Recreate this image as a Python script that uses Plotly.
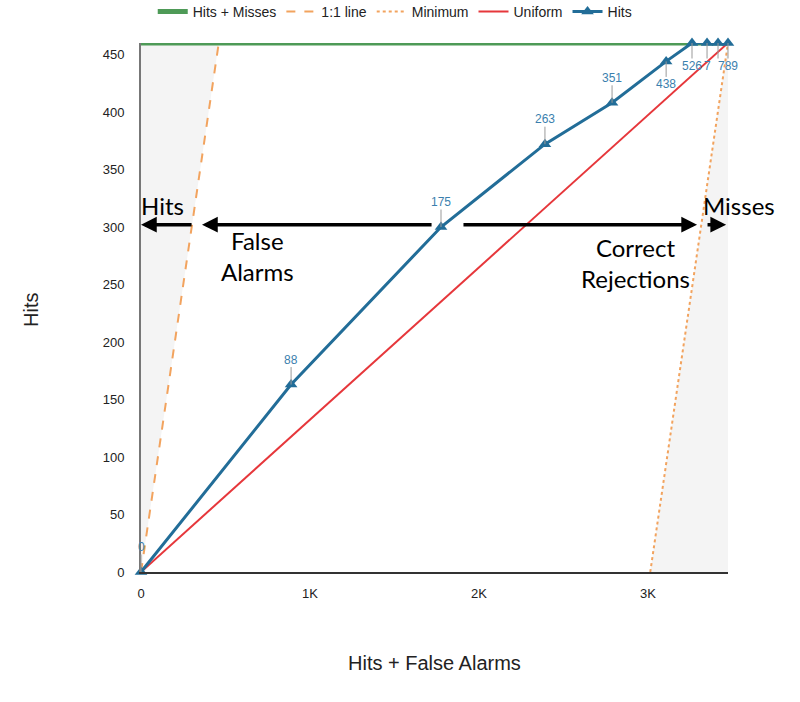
import plotly.graph_objects as go

# ---- data ----
total_hits = 460          # Hits + Misses
total_cases = 3473        # Hits + False Alarms at the end
hits_x = [0, 888, 1775, 2390, 2787, 3107, 3260, 3349, 3414, 3473]
hits_y = [0, 163, 300, 372, 408, 444, 460, 460, 460, 460]
point_labels = ["0", "88", "175", "263", "351", "438", "526", "614", "701", "789"]
# what is legible in the reference where the last labels collide
label_display = ["0", "88", "175", "263", "351", "438", "526", "7", " ", "789"]
label_below = [False, False, False, False, False, True, True, True, True, True]
y_ticks = [0, 50, 100, 150, 200, 250, 300, 350, 400, 450]
x_ticks = [0, 1000, 2000, 3000]
x_tick_text = ["0", "1K", "2K", "3K"]

BLUE = "#226d98"
RED = "#e6373b"
ORANGE = "#f2a35e"
GREEN = "#4e9a57"
SHADE = "#f4f4f4"

fig = go.Figure()

# shaded impossible regions
fig.add_trace(go.Scatter(x=[0, 0, total_hits, 0], y=[0, total_hits, total_hits, 0],
                         fill="toself", fillcolor=SHADE, line=dict(width=0),
                         mode="lines", showlegend=False, hoverinfo="skip"))
fig.add_trace(go.Scatter(x=[total_cases - total_hits, total_cases, total_cases, total_cases - total_hits],
                         y=[0, 0, total_hits, 0],
                         fill="toself", fillcolor=SHADE, line=dict(width=0),
                         mode="lines", showlegend=False, hoverinfo="skip"))

fig.add_trace(go.Scatter(x=[0, total_cases], y=[total_hits, total_hits], mode="lines",
                         name="Hits + Misses", line=dict(color=GREEN, width=5), cliponaxis=False))
fig.add_trace(go.Scatter(x=[0, total_hits], y=[0, total_hits], mode="lines",
                         name="1:1 line", line=dict(color=ORANGE, width=2, dash="dash")))
fig.add_trace(go.Scatter(x=[total_cases - total_hits, total_cases], y=[0, total_hits], mode="lines",
                         name="Minimum", line=dict(color=ORANGE, width=2, dash="dot")))
fig.add_trace(go.Scatter(x=[0, total_cases], y=[0, total_hits], mode="lines",
                         name="Uniform", line=dict(color=RED, width=2)))
fig.add_trace(go.Scatter(x=hits_x, y=hits_y, mode="lines+markers", name="Hits",
                         line=dict(color=BLUE, width=3),
                         marker=dict(symbol="triangle-up", size=11, color=BLUE),
                         text=point_labels, cliponaxis=False))

# point labels with stems
for i, (px, py, lab) in enumerate(zip(hits_x, hits_y, label_display)):
    fig.add_annotation(x=px, y=py, xref="x", yref="y",
                       text=lab,
                       showarrow=True, arrowhead=0, arrowwidth=1, arrowcolor="#999999",
                       ax=0, ay=(23 if label_below[i] else -25),
                       font=dict(family="Arial", size=12, color="#3b7fae"),
                       borderpad=0)

# black arrows
arrow_y = 302
arrows = [(308, 0), (1728, 361), (1899, 3290), (3343, 3462)]
for tail, head in arrows:
    fig.add_annotation(x=head, y=arrow_y, ax=tail, ay=arrow_y, xref="x", yref="y",
                       axref="x", ayref="y", text="", showarrow=True,
                       arrowhead=2, arrowsize=0.9, arrowwidth=3.5, arrowcolor="black")

big = dict(family="Lato", size=24, color="black")
fig.add_annotation(x=130, y=319, text="Hits", showarrow=False, font=big)
fig.add_annotation(x=692, y=275, text="False<br>Alarms", showarrow=False, font=big)
fig.add_annotation(x=2923, y=269, text="Correct<br>Rejections", showarrow=False, font=big)
fig.add_annotation(xref="paper", yref="paper", x=(739 - 141) / 587, y=(572 - 205) / 529,
                   xanchor="center", yanchor="middle",
                   text="Misses", showarrow=False, font=big)

# axis titles
fig.add_annotation(xref="paper", yref="paper", x=(31 - 141) / 587, y=(572 - 310) / 529,
                   xanchor="center", yanchor="middle",
                   text="Hits", textangle=-90, showarrow=False,
                   font=dict(family="Arial", size=20, color="#222"))
fig.add_annotation(xref="paper", yref="paper", x=(435 - 141) / 587, y=-(663 - 572) / 529,
                   xanchor="center", yanchor="middle",
                   text="Hits + False Alarms", showarrow=False,
                   font=dict(family="Arial", size=20, color="#222"))

fig.update_layout(
    width=800, height=702,
    margin=dict(l=141, r=72, t=43, b=130, autoexpand=False),
    paper_bgcolor="white", plot_bgcolor="white",
    font=dict(family="Arial", size=13, color="#222"),
    legend=dict(orientation="h", x=0.02, xanchor="left", y=1.059, yanchor="middle",
                font=dict(family="Arial", size=14, color="#222"), itemwidth=30,
                bgcolor="rgba(0,0,0,0)"),
    xaxis=dict(range=[0, total_cases], tickvals=x_ticks, ticktext=x_tick_text,
               showgrid=False, zeroline=False, showline=True, linecolor="#333", linewidth=2,
               ticks="", ticklabelstandoff=8,
               tickfont=dict(family="Arial", size=13, color="#222")),
    yaxis=dict(range=[0, total_hits], tickvals=y_ticks, showgrid=False, zeroline=False,
               showline=True, linecolor="#777", linewidth=2, ticks="",
               ticklabelstandoff=12,
               tickfont=dict(family="Arial", size=13, color="#222")),
)

fig.write_html("out.html")
